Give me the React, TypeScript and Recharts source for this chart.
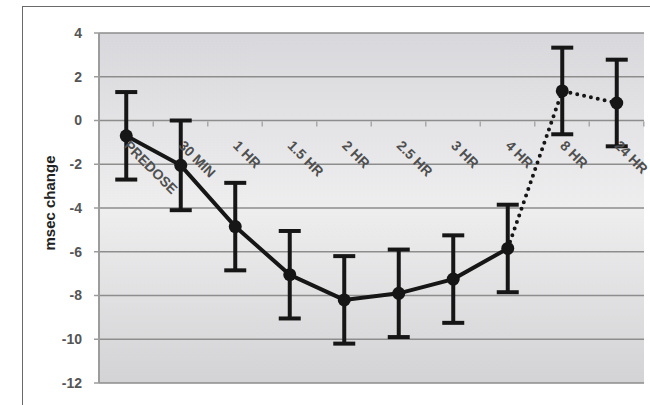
import { CartesianGrid, ErrorBar, Label, Line, LineChart, XAxis, YAxis } from 'recharts'

// change from baseline (msec) at each timepoint, with error bar half-lengths
const timepoints = ['PREDOSE', '30 MIN', '1 HR', '1.5 HR', '2 HR', '2.5 HR', '3 HR', '4 HR', '8 HR', '24 HR']
const meanChange = [-0.7, -2.05, -4.85, -7.05, -8.2, -7.9, -7.25, -5.85, 1.35, 0.8]
const errorMargin = [2.0, 2.05, 2.0, 2.0, 2.0, 2.0, 2.0, 2.0, 1.98, 1.98]
const yTicks = [-12, -10, -8, -6, -4, -2, 0, 2, 4]
const lastSolidIndex = 7 // 4 HR; dotted after that

const INK = '#161616'
const FONT = '"Liberation Sans", Arial, sans-serif'

const data = timepoints.map((t, i) => ({
  t,
  mean: meanChange[i],
  err: errorMargin[i],
  solid: i <= lastSolidIndex ? meanChange[i] : null,
  dotted: i >= lastSolidIndex ? meanChange[i] : null,
  axis: 0,
}))

function TimeLabel(props: any) {
  const { cx, cy, index, payload } = props
  if (cx == null || cy == null) return <g key={`lbl-${index}`} />
  return (
    <g key={`lbl-${index}`}>
      <line x1={cx + 27} y1={cy + 1} x2={cx + 27} y2={cy + 6} stroke="#a8a8a8" strokeWidth={1.5} />
      <text
        transform={`translate(${cx - 3},${cy + 26}) rotate(45)`}
        fontSize={14}
        fontWeight="bold"
        fill="#4f4f4f"
        fontFamily={FONT}
      >
        {payload.t}
      </text>
    </g>
  )
}

function YTitle(props: any) {
  const { viewBox } = props
  const x = viewBox.x + 10
  const y = viewBox.y + viewBox.height / 2 - 5
  return (
    <text
      x={x}
      y={y}
      transform={`rotate(-90 ${x} ${y})`}
      textAnchor="middle"
      dominantBaseline="central"
      fontSize={15}
      fontWeight="bold"
      fill="#222"
      fontFamily={FONT}
    >
      msec change
    </text>
  )
}

export default function App() {
  return (
    <div style={{ position: 'absolute', left: 0, top: 0, width: 650, height: 405, background: '#fff', overflow: 'hidden' }}>
      <div style={{ position: 'absolute', left: 22, top: 6, width: 700, height: 500, border: '1.5px solid #6a6a6a' }} />
      <div style={{ position: 'absolute', left: 0, top: 0 }}>
        <LineChart width={650} height={405} data={data} margin={{ top: 33, right: 6, bottom: 22, left: 39 }}>
          <defs>
            <linearGradient id="plotBg" x1="0" y1="0" x2="0" y2="1">
              <stop offset="0%" stopColor="#d8d8dc" />
              <stop offset="50%" stopColor="#eeeeef" />
              <stop offset="100%" stopColor="#d3d3d5" />
            </linearGradient>
          </defs>
          <CartesianGrid vertical={false} stroke="#8d8d8d" strokeWidth={1.6} fill="url(#plotBg)" />
          <XAxis dataKey="t" scale="band" hide />
          <YAxis
            domain={[-12, 4]}
            ticks={yTicks}
            interval={0}
            width={60}
            axisLine={{ stroke: '#9c9c9c', strokeWidth: 2 }}
            tickLine={{ stroke: '#9c9c9c', strokeWidth: 1.5 }}
            tickSize={5}
            tickMargin={12}
            tick={{ fill: '#555', fontSize: 14, fontWeight: 'bold', fontFamily: FONT }}
          >
            <Label content={<YTitle />} />
          </YAxis>
          <Line dataKey="axis" stroke="none" dot={<TimeLabel />} activeDot={false} isAnimationActive={false} />
          <Line dataKey="solid" stroke={INK} strokeWidth={4} dot={false} activeDot={false} isAnimationActive={false} />
          <Line
            dataKey="dotted"
            stroke={INK}
            strokeWidth={4}
            strokeDasharray="0 7"
            strokeLinecap="round"
            dot={false}
            activeDot={false}
            isAnimationActive={false}
          />
          <Line
            dataKey="mean"
            stroke="none"
            dot={{ r: 6.5, fill: INK, stroke: INK, strokeWidth: 0 }}
            activeDot={false}
            isAnimationActive={false}
          >
            <ErrorBar dataKey="err" width={11} strokeWidth={4} stroke={INK} direction="y" />
          </Line>
        </LineChart>
      </div>
    </div>
  )
}
